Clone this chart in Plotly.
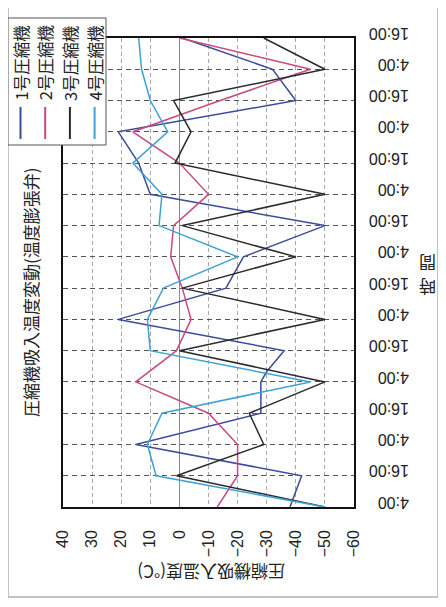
import plotly.graph_objects as go

# 時間軸 (4:00 起点からの経過時間 h)
hours = [0, 12, 24, 36, 48, 60, 72, 84, 96, 108, 120, 132, 144, 156, 168, 180]
time_labels = ["4:00", "16:00"] * 8

# 圧縮機吸入温度 (°C)
comp1_hours = [0, 12, 24, 36, 48, 52, 60, 72, 84, 96, 108, 120, 132, 144, 156, 168, 180]
comp1_temp = [-38, -42, 15, -28, -28, -30, -36, 21, -16, -22, -50, 10, 14, 21, -40, -32, -1]
comp2_temp = [-13, -20, -20, -10, 15, 1, -4, -1, 3, 2, -10, 0, 16, -14, -45, 0]
comp3_temp = [-50, 1, -29, -24, -50, 0, -50, -1, -40, -1, -50, 1.5, -4, 2, -50, -29]
comp4_temp = [-50, 8, 11, 6, -45, 10, 11, 5.5, -20, 7, 6, 16, 4, 10, 13, 14]

temp_ticks = [40, 30, 20, 10, 0, -10, -20, -30, -40, -50, -60]

names = ["1号圧縮機", "2号圧縮機", "3号圧縮機", "4号圧縮機"]
colors = ["#3b4c9b", "#c84a80", "#2a2a2a", "#3da2d6"]

# ページには body の余白 8px が付くので、図はその分小さくする
OFF = 8
W, H = 430, 591
L, T = 63 - OFF, 38 - OFF
R, B = W - (354 - OFF), H - (507 - OFF)
pw, ph = W - L - R, H - T - B


def px_x(x):
    return (x - OFF - L) / pw


def px_y(y):
    return (H - B - (y - OFF)) / ph


font = "Liberation Sans, Noto Sans CJK JP, sans-serif"
jfont = "Noto Sans CJK JP, sans-serif"

fig = go.Figure()
series = [
    (comp1_hours, comp1_temp),
    (hours, comp2_temp),
    (hours, comp3_temp),
    (hours, comp4_temp),
]
for (h, t), name, c in zip(series, names, colors):
    fig.add_trace(go.Scatter(x=t, y=h, mode="lines", name=name,
                             line=dict(color=c, width=1.5)))

fig.update_xaxes(
    range=[40, -60], tickvals=temp_ticks, tickangle=-90,
    tickfont=dict(size=16, color="#222", family=font),
    showgrid=True, gridcolor="#a8a8a8", griddash="4px,3px", gridwidth=1,
    zeroline=True, zerolinecolor="#8a8a8a", zerolinewidth=1,
    showline=True, mirror=True, linecolor="#111", linewidth=1.5,
    ticks="", ticklabelstandoff=15, automargin=False,
)
fig.update_yaxes(
    range=[0, 180], tickvals=hours, ticktext=time_labels, side="right",
    tickangle=180, tickfont=dict(size=16, color="#222", family=font),
    showgrid=True, gridcolor="#555", griddash="5px,4px", gridwidth=1,
    zeroline=False,
    showline=True, mirror=True, linecolor="#111", linewidth=1.5,
    ticks="", ticklabelstandoff=50, automargin=False,
)

shapes = [
    # 外枠
    dict(type="rect", xref="paper", yref="paper",
         x0=px_x(8), x1=px_x(438), y0=px_y(5), y1=px_y(597),
         line=dict(color="#b0b0b0", width=1.5), fillcolor="rgba(0,0,0,0)",
         layer="below"),
    # 凡例枠
    dict(type="rect", xref="paper", yref="paper",
         x0=px_x(8), x1=px_x(106), y0=px_y(18), y1=px_y(145),
         line=dict(color="#555", width=1), fillcolor="white", layer="above"),
]
annotations = []
for i, (name, c) in enumerate(zip(names, colors)):
    lx = 20.5 + 24.7 * i
    shapes.append(dict(type="line", xref="paper", yref="paper",
                       x0=px_x(lx), x1=px_x(lx), y0=px_y(107), y1=px_y(139),
                       line=dict(color=c, width=2), layer="above"))
    annotations.append(dict(xref="paper", yref="paper", x=px_x(lx), y=px_y(63),
                            xanchor="center", yanchor="middle",
                            text=name, textangle=-90, showarrow=False,
                            font=dict(size=16.5, color="#222", family=jfont)))

annotations += [
    dict(xref="paper", yref="paper", x=px_x(30), y=px_y(292),
         xanchor="center", yanchor="middle",
         text="圧縮機吸入温度変動(温度膨張弁)", textangle=-90, showarrow=False,
         font=dict(size=17, color="#222", family=jfont)),
    dict(xref="paper", yref="paper", x=px_x(211), y=px_y(573),
         xanchor="center", yanchor="middle",
         text="圧縮機吸入温度(°C)", textangle=180, showarrow=False,
         font=dict(size=17, color="#222", family=jfont)),
]
# 「時間」: 縦書きを逆さにした形 (上に「間」、下に「時」)
for ch, cy in [("間", 264), ("時", 288)]:
    annotations.append(dict(xref="paper", yref="paper", x=px_x(428), y=px_y(cy),
                            xanchor="center", yanchor="middle",
                            text=ch, textangle=180, showarrow=False,
                            font=dict(size=17, color="#222", family=jfont)))

fig.update_layout(
    width=W, height=H,
    margin=dict(l=L, r=R, t=T, b=B),
    paper_bgcolor="white", plot_bgcolor="white",
    showlegend=False,
    shapes=shapes, annotations=annotations,
)

fig.write_html("out.html")
